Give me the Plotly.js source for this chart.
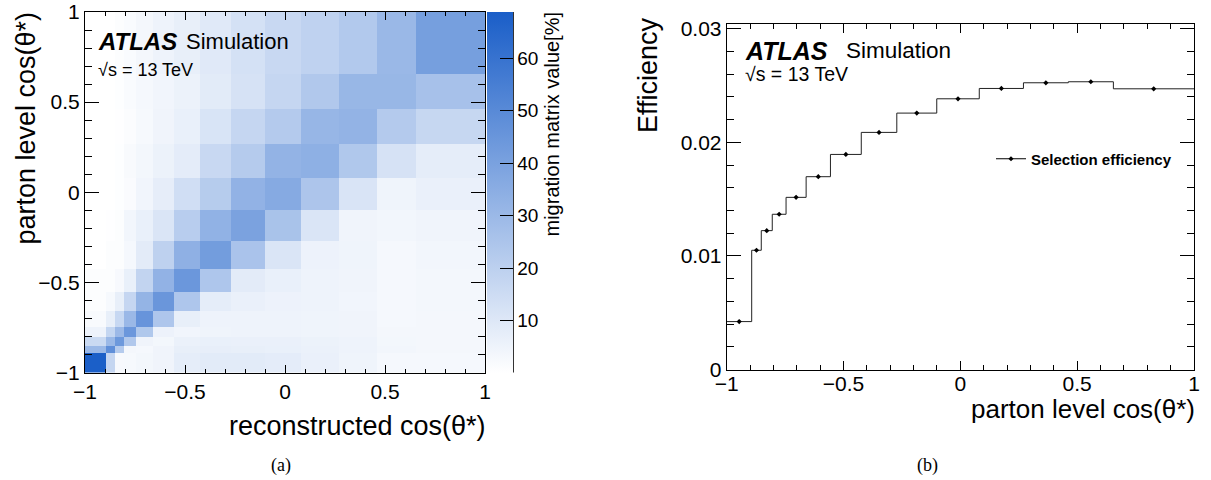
<!DOCTYPE html>
<html>
<head>
<meta charset="utf-8">
<script src="https://cdn.plot.ly/plotly-3.0.1.min.js"></script>
<style>html,body{margin:0;padding:0;background:#fff;}#chart{width:1211px;height:480px;}</style>
</head>
<body>
<div id="chart"></div>
<script>
// Bin edges of cos(theta*) (shared by reconstructed and parton level)
const binEdges = [-1, -0.893, -0.852, -0.805, -0.746, -0.660, -0.556, -0.424, -0.272, -0.101, 0.081, 0.270, 0.462, 0.655, 1];

// Migration matrix [%]; rows = parton-level bins (bottom to top), columns = reconstructed bins (left to right)
const migrationMatrix = [
  [68.4, 17.4, 2.4, 2.7, 3.6, 4.5, 7.8, 8.7, 8.7, 8.1, 6.3, 4.8, 3.0, 3.0],
  [30.0, 48.0, 22.2, 3.3, 3.0, 4.5, 6.9, 7.2, 6.9, 6.6, 6.0, 5.1, 3.9, 3.3],
  [15.9, 30.0, 43.8, 23.4, 4.5, 3.6, 6.0, 6.6, 6.3, 6.3, 5.7, 5.1, 3.6, 3.3],
  [5.1, 17.7, 29.7, 44.4, 23.7, 5.4, 4.2, 4.8, 5.1, 5.1, 4.8, 4.5, 3.3, 3.3],
  [2.1, 6.9, 16.8, 30.3, 45.6, 24.3, 6.9, 5.1, 5.1, 5.1, 4.8, 4.5, 3.0, 3.3],
  [0.9, 2.7, 6.9, 17.4, 32.1, 44.7, 24.3, 7.8, 6.3, 5.4, 5.1, 4.2, 3.0, 3.6],
  [0.9, 0.9, 2.4, 6.6, 18.3, 32.7, 44.4, 24.3, 8.4, 6.6, 5.1, 4.5, 3.0, 3.6],
  [0.0, 0.9, 0.9, 3.0, 8.4, 19.5, 33.6, 42.0, 25.5, 11.1, 5.4, 4.8, 3.0, 3.9],
  [0.0, 0.3, 0.9, 3.9, 6.6, 11.1, 21.3, 33.0, 39.6, 25.8, 11.1, 4.5, 3.9, 4.5],
  [0.0, 0.0, 0.6, 1.5, 4.2, 7.5, 14.1, 21.9, 32.7, 36.3, 24.6, 11.4, 4.8, 6.3],
  [0.0, 0.0, 0.6, 2.1, 3.6, 5.7, 8.1, 16.5, 22.2, 32.4, 33.9, 23.7, 12.3, 7.8],
  [0.0, 0.0, 0.3, 1.2, 2.7, 4.5, 6.6, 11.7, 17.4, 22.5, 31.2, 32.4, 22.5, 17.1],
  [0.0, 0.0, 0.6, 1.8, 3.0, 4.2, 5.7, 8.7, 12.3, 17.4, 23.4, 30.9, 30.9, 26.4],
  [0.0, 0.0, 0.9, 1.8, 3.3, 5.1, 6.9, 9.3, 12.9, 16.5, 19.2, 23.1, 30.3, 41.1]
];
const colorbarTicks = [10, 20, 30, 40, 50, 60];

// Selection efficiency per parton-level bin
const effValues = [0.00422, 0.01050, 0.01223, 0.01367, 0.01516, 0.01698, 0.01894, 0.02088, 0.02258, 0.02384, 0.02475, 0.02525, 0.02534, 0.02472];
const effErrors = [0.0001, 0.0001, 0.0001, 0.0001, 0.0001, 0.0001, 0.0001, 0.0001, 0.0001, 0.0001, 0.0001, 0.0001, 0.0001, 0.0001];

const W = 1211, H = 480;
const px = v => v / W;
const py = v => 1 - v / H;
const FONT = 'Liberation Sans, Arial, Helvetica, sans-serif';

const binCenters = binEdges.slice(0, -1).map((e, i) => (e + binEdges[i + 1]) / 2);
const stepY = effValues.concat([effValues[effValues.length - 1]]);

const traces = [
  {
    type: 'heatmap', x: binEdges, y: binEdges, z: migrationMatrix,
    xaxis: 'x', yaxis: 'y',
    zmin: 0, zmax: 68.8,
    colorscale: [[0, '#ffffff'], [1, '#1a5ec8']],
    hoverongaps: false,
    colorbar: {
      x: px(487.3), xanchor: 'left', y: py(12), yanchor: 'top',
      len: 360.5 / H, lenmode: 'fraction', thickness: 26, thicknessmode: 'pixels',
      xpad: 0, ypad: 0, outlinewidth: 0,
      ticks: 'inside', ticklen: 13, tickcolor: '#000', tickwidth: 1,
      tickvals: colorbarTicks, tickfont: {size: 19, family: FONT, color: '#000'}
    }
  },
  {
    type: 'scatter', mode: 'lines', x: binEdges, y: stepY,
    xaxis: 'x2', yaxis: 'y2', line: {shape: 'hv', color: '#222', width: 1},
    showlegend: false
  },
  {
    type: 'scatter', mode: 'markers', x: binCenters, y: effValues,
    xaxis: 'x2', yaxis: 'y2',
    marker: {color: '#000', size: 4, symbol: 'diamond'},
    error_y: {type: 'data', array: effErrors, visible: true, width: 0, thickness: 1, color: '#000'},
    showlegend: false
  },
  {
    type: 'scatter', mode: 'lines+markers', x: [null], y: [null],
    xaxis: 'x2', yaxis: 'y2', name: 'Selection efficiency',
    line: {color: '#000', width: 1}, marker: {color: '#000', size: 4, symbol: 'diamond'},
    showlegend: true
  }
];

const axisCommon = {
  showgrid: false, zeroline: false, showline: true, linecolor: '#000', linewidth: 1,
  mirror: 'allticks', ticks: 'inside', tickcolor: '#000', tickwidth: 1,
  tickfont: {size: 21, family: FONT, color: '#000'}
};

const layout = {
  width: W, height: H,
  margin: {l: 0, r: 0, t: 0, b: 0, pad: 0},
  paper_bgcolor: '#fff', plot_bgcolor: '#fff',
  font: {family: FONT, color: '#000'},
  showlegend: true,
  legend: {
    x: px(991), xanchor: 'left', y: py(159), yanchor: 'middle',
    bgcolor: 'rgba(0,0,0,0)', borderwidth: 0, itemwidth: 30,
    font: {size: 15, family: FONT, color: '#000', weight: 'bold'}
  },
  xaxis: Object.assign({}, axisCommon, {
    domain: [px(85), px(485)], anchor: 'y', range: [-1, 1],
    tick0: -1, dtick: 0.5, ticklen: 8,
    minor: {dtick: 0.1, tick0: -1, ticks: 'inside', ticklen: 4, tickcolor: '#000', showgrid: false}
  }),
  yaxis: Object.assign({}, axisCommon, {
    domain: [py(372.5), py(12)], anchor: 'x', range: [-1, 1],
    tick0: -1, dtick: 0.5, ticklen: 14,
    minor: {dtick: 0.1, tick0: -1, ticks: 'inside', ticklen: 7, tickcolor: '#000', showgrid: false}
  }),
  xaxis2: Object.assign({}, axisCommon, {
    domain: [px(726.7), px(1194)], anchor: 'y2', range: [-1, 1],
    tick0: -1, dtick: 0.5, ticklen: 9, ticklabelstandoff: -5,
    minor: {dtick: 0.1, tick0: -1, ticks: 'inside', ticklen: 5, tickcolor: '#000', showgrid: false}
  }),
  yaxis2: Object.assign({}, axisCommon, {
    domain: [py(369.5), py(24.3)], anchor: 'x2', range: [0, 0.0304],
    tick0: 0, dtick: 0.01, ticklen: 14,
    minor: {dtick: 0.002, tick0: 0, ticks: 'inside', ticklen: 7, tickcolor: '#000', showgrid: false}
  }),
  shapes: [
    {type: 'line', xref: 'paper', yref: 'paper', x0: px(513.3), x1: px(513.3), y0: py(372.5), y1: py(12), line: {color: '#000', width: 1}}
  ],
  annotations: [
    {text: '<b><i>ATLAS</i></b>', x: px(97), y: py(41.5), xanchor: 'left', yanchor: 'middle', font: {size: 24}},
    {text: 'Simulation', x: px(185), y: py(41.5), xanchor: 'left', yanchor: 'middle', font: {size: 22}},
    {text: '√s = 13 TeV', x: px(97), y: py(70), xanchor: 'left', yanchor: 'middle', font: {size: 18}},
    {text: '<b><i>ATLAS</i></b>', x: px(744), y: py(51), xanchor: 'left', yanchor: 'middle', font: {size: 25}},
    {text: 'Simulation', x: px(845), y: py(51), xanchor: 'left', yanchor: 'middle', font: {size: 22.5}},
    {text: '√s = 13 TeV', x: px(744), y: py(74), xanchor: 'left', yanchor: 'middle', font: {size: 19.5}},
    {text: 'parton level cos(θ*)', x: px(25), y: py(11), xanchor: 'center', yanchor: 'top', textangle: -90, font: {size: 27}},
    {text: 'reconstructed cos(θ*)', x: px(487), y: py(426), xanchor: 'right', yanchor: 'middle', font: {size: 27}},
    {text: 'migration matrix value[%]', x: px(551), y: py(11), xanchor: 'center', yanchor: 'top', textangle: -90, font: {size: 20}},
    {text: 'Efficiency', x: px(648), y: py(16), xanchor: 'center', yanchor: 'top', textangle: -90, font: {size: 27}},
    {text: 'parton level cos(θ*)', x: px(1196), y: py(409), xanchor: 'right', yanchor: 'middle', font: {size: 26}},
    {text: '(a)', x: px(281), y: py(465), xanchor: 'center', yanchor: 'middle', font: {size: 18, family: 'Liberation Serif, Times New Roman, serif'}},
    {text: '(b)', x: px(927), y: py(465), xanchor: 'center', yanchor: 'middle', font: {size: 18, family: 'Liberation Serif, Times New Roman, serif'}}
  ].map(a => Object.assign({xref: 'paper', yref: 'paper', showarrow: false, borderpad: 0}, a, {font: Object.assign({family: FONT, color: '#000'}, a.font)}))
};

Plotly.newPlot('chart', traces, layout, {staticPlot: true, displayModeBar: false});
</script>
</body>
</html>
